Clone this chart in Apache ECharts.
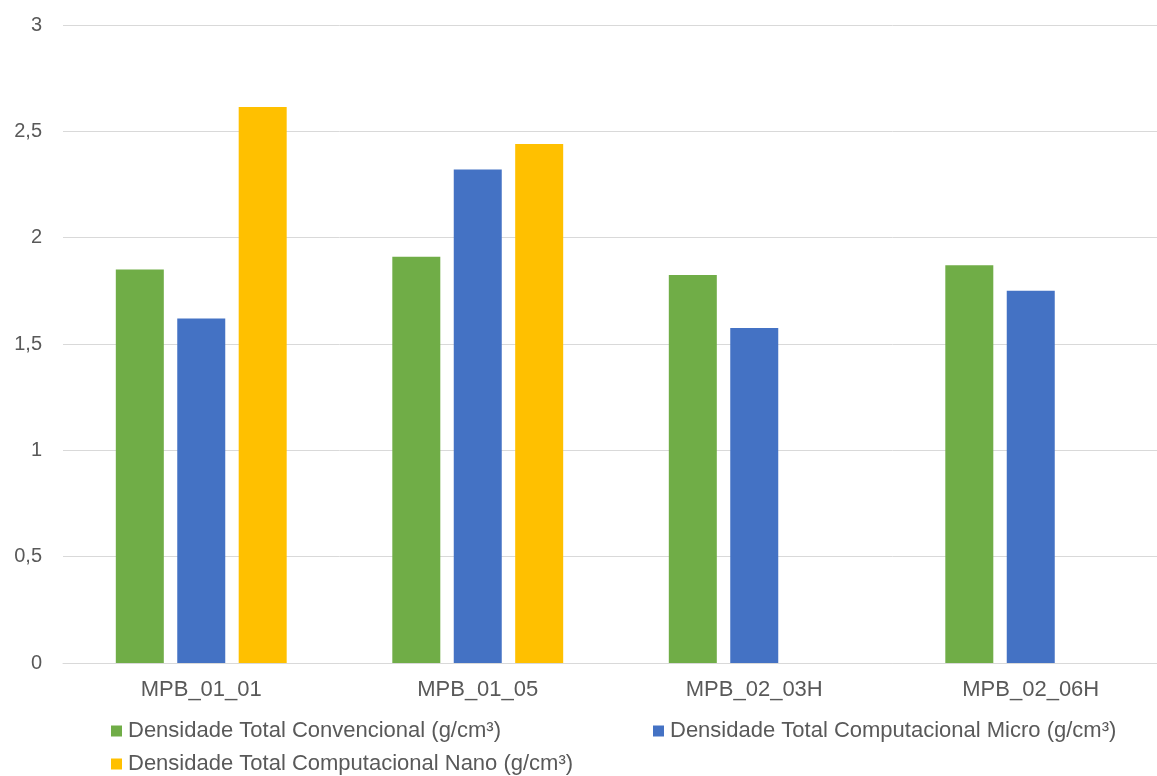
<!DOCTYPE html>
<html>
<head>
<meta charset="utf-8">
<script src="https://cdn.jsdelivr.net/npm/echarts@6/dist/echarts.min.js"></script>
<style>
  html, body { margin: 0; padding: 0; background: #ffffff; overflow: hidden; }
  /* canvas is a little wider than the window so the plot area runs past the right edge */
  #chart { width: 1169px; height: 776px; }
</style>
</head>
<body>
<div id="chart"></div>
<script>
// Amostras e densidades totais (g/cm³)
const categories = ['MPB_01_01', 'MPB_01_05', 'MPB_02_03H', 'MPB_02_06H'];
const seriesNames = [
  'Densidade Total Convencional (g/cm³)',
  'Densidade Total Computacional Micro (g/cm³)',
  'Densidade Total Computacional Nano (g/cm³)'
];
const convencional = [1.85, 1.91, 1.825, 1.87];
const micro = [1.62, 2.32, 1.575, 1.75];
const nano = [2.615, 2.44, null, null];
const yTicks = ['0', '0,5', '1', '1,5', '2', '2,5', '3'];

const colors = ['#70ad47', '#4472c4', '#ffc000'];
const FONT = '"Liberation Sans", Arial, sans-serif';

const legendBase = {
  orient: 'horizontal',
  padding: 0,
  itemWidth: 11,
  itemHeight: 11,
  itemGap: 6,
  icon: 'rect',
  selectedMode: false,
  textStyle: { fontFamily: FONT, fontSize: 22, color: '#595959', lineHeight: 24, padding: [0, 0, 0, 1] }
};

const chart = echarts.init(document.getElementById('chart'), null, { renderer: 'canvas' });
chart.setOption({
  animation: false,
  backgroundColor: '#ffffff',
  color: colors,
  grid: { left: 63, right: 0, top: 25, bottom: 113, containLabel: false },
  legend: [
    Object.assign({}, legendBase, { data: [seriesNames[0]], left: 111, top: 719 }),
    Object.assign({}, legendBase, { data: [seriesNames[1]], left: 653, top: 719 }),
    Object.assign({}, legendBase, { data: [seriesNames[2]], left: 111, top: 752 })
  ],
  xAxis: {
    type: 'category',
    data: categories,
    axisLine: { show: true, lineStyle: { color: '#d9d9d9', width: 1 } },
    axisTick: { show: false },
    axisLabel: { fontFamily: FONT, fontSize: 22, color: '#595959', margin: 16, lineHeight: 22 },
    splitLine: { show: false }
  },
  yAxis: {
    type: 'value',
    min: 0,
    max: 3,
    interval: 0.5,
    axisLine: { show: false },
    axisTick: { show: false },
    axisLabel: {
      fontFamily: FONT, fontSize: 20, color: '#595959', margin: 21,
      formatter: function (v) { return yTicks[Math.round(v / 0.5)]; }
    },
    splitLine: { show: true, lineStyle: { color: '#d9d9d9', width: 1 } }
  },
  series: [
    { name: seriesNames[0], type: 'bar', data: convencional, barWidth: 48, barGap: '28%' },
    { name: seriesNames[1], type: 'bar', data: micro, barWidth: 48, barGap: '28%' },
    { name: seriesNames[2], type: 'bar', data: nano, barWidth: 48, barGap: '28%' }
  ]
});
</script>
</body>
</html>
